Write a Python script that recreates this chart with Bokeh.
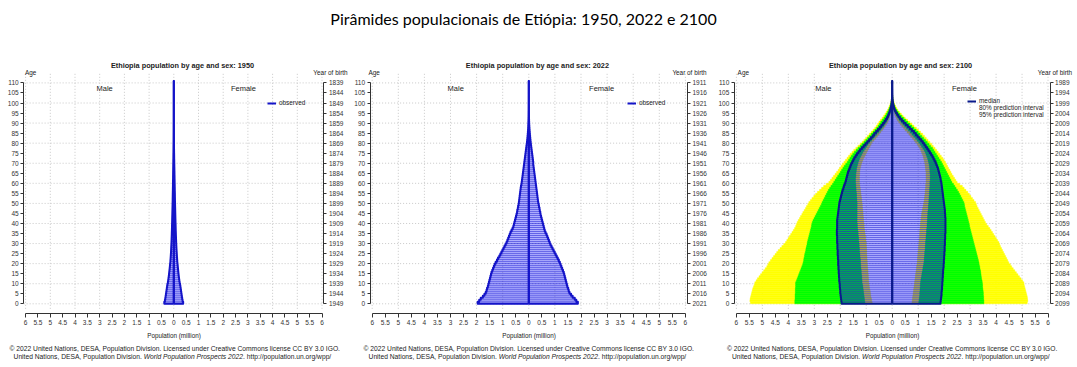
import numpy as np
from bokeh.plotting import figure
from bokeh.models import (Range1d, LinearAxis, FixedTicker, Label, Legend, LegendItem,
                          ColumnDataSource)
from bokeh.embed import file_html
from bokeh.resources import INLINE

# ---------------- data (population in millions, single years of age 0..110) -------------
AGES = list(range(111))

M1950 = [0.385, 0.360, 0.345, 0.332, 0.320, 0.308, 0.296, 0.284, 0.272, 0.260,
         0.240, 0.228, 0.216, 0.205, 0.195, 0.186, 0.177, 0.168, 0.160, 0.152,
         0.142, 0.136, 0.130, 0.124, 0.119, 0.114, 0.110, 0.106, 0.102, 0.098,
         0.094, 0.091, 0.088, 0.085, 0.082, 0.080, 0.077, 0.075, 0.073, 0.071,
         0.068, 0.066, 0.064, 0.062, 0.060, 0.058, 0.056, 0.054, 0.052, 0.050,
         0.048, 0.046, 0.045, 0.043, 0.042, 0.040, 0.038, 0.037, 0.035, 0.034,
         0.032, 0.031, 0.029, 0.028, 0.026, 0.025, 0.023, 0.022, 0.020, 0.019,
         0.017, 0.016, 0.014, 0.013, 0.012, 0.010, 0.009, 0.008, 0.007, 0.006,
         0.005, 0.004, 0.0035, 0.003, 0.0025, 0.002, 0.0015, 0.0012, 0.001, 0.0008,
         0.0006, 0.0005, 0.0003, 0.0002, 0.0002, 0.0001, 0.0001, 0.0, 0.0, 0.0,
         0, 0, 0, 0, 0, 0, 0, 0, 0, 0, 0]
F1950 = [0.380, 0.356, 0.341, 0.328, 0.316, 0.304, 0.292, 0.280, 0.268, 0.256,
         0.237, 0.225, 0.214, 0.203, 0.194, 0.185, 0.177, 0.169, 0.161, 0.154,
         0.145, 0.139, 0.133, 0.127, 0.122, 0.117, 0.112, 0.108, 0.104, 0.100,
         0.096, 0.093, 0.090, 0.087, 0.084, 0.081, 0.078, 0.076, 0.074, 0.072,
         0.069, 0.067, 0.065, 0.063, 0.061, 0.059, 0.057, 0.055, 0.053, 0.051,
         0.049, 0.047, 0.046, 0.044, 0.043, 0.041, 0.039, 0.038, 0.036, 0.035,
         0.033, 0.032, 0.030, 0.029, 0.027, 0.026, 0.024, 0.023, 0.021, 0.020,
         0.018, 0.017, 0.015, 0.014, 0.013, 0.011, 0.010, 0.009, 0.008, 0.007,
         0.006, 0.005, 0.004, 0.0035, 0.003, 0.0025, 0.002, 0.0015, 0.0012, 0.001,
         0.0008, 0.0006, 0.0004, 0.0003, 0.0002, 0.0002, 0.0001, 0.0001, 0.0, 0.0,
         0, 0, 0, 0, 0, 0, 0, 0, 0, 0, 0]

M2022 = [1.96, 1.90, 1.84, 1.76, 1.70, 1.65, 1.62, 1.60, 1.57, 1.55,
         1.53, 1.51, 1.49, 1.47, 1.45, 1.43, 1.40, 1.37, 1.34, 1.31,
         1.27, 1.22, 1.18, 1.13, 1.09, 1.05, 1.01, 0.97, 0.93, 0.89,
         0.85, 0.82, 0.79, 0.76, 0.73, 0.70, 0.66, 0.62, 0.59, 0.57,
         0.55, 0.53, 0.51, 0.49, 0.47, 0.45, 0.44, 0.42, 0.41, 0.39,
         0.38, 0.37, 0.36, 0.35, 0.34, 0.33, 0.32, 0.31, 0.30, 0.28,
         0.27, 0.26, 0.25, 0.24, 0.23, 0.22, 0.21, 0.20, 0.19, 0.18,
         0.17, 0.16, 0.15, 0.14, 0.13, 0.12, 0.11, 0.10, 0.09, 0.08,
         0.070, 0.062, 0.054, 0.047, 0.040, 0.034, 0.028, 0.023, 0.019, 0.015,
         0.012, 0.009, 0.007, 0.005, 0.004, 0.003, 0.002, 0.0015, 0.001, 0.0007,
         0.0005, 0.0003, 0.0002, 0.0001, 0.0001, 0, 0, 0, 0, 0, 0]
F2022 = [1.88, 1.82, 1.76, 1.68, 1.62, 1.56, 1.53, 1.51, 1.48, 1.46,
         1.44, 1.42, 1.40, 1.38, 1.36, 1.34, 1.31, 1.28, 1.25, 1.22,
         1.19, 1.15, 1.11, 1.07, 1.03, 0.99, 0.95, 0.91, 0.87, 0.83,
         0.80, 0.77, 0.74, 0.71, 0.68, 0.64, 0.61, 0.59, 0.57, 0.55,
         0.53, 0.51, 0.49, 0.47, 0.45, 0.44, 0.42, 0.41, 0.39, 0.38,
         0.36, 0.35, 0.34, 0.33, 0.32, 0.31, 0.30, 0.29, 0.28, 0.27,
         0.26, 0.25, 0.24, 0.23, 0.22, 0.21, 0.20, 0.19, 0.18, 0.17,
         0.17, 0.16, 0.15, 0.14, 0.13, 0.12, 0.11, 0.10, 0.09, 0.08,
         0.072, 0.064, 0.056, 0.049, 0.042, 0.036, 0.030, 0.025, 0.020, 0.016,
         0.013, 0.010, 0.008, 0.006, 0.0045, 0.0033, 0.0024, 0.0017, 0.0012, 0.0008,
         0.0005, 0.0003, 0.0002, 0.0001, 0.0001, 0, 0, 0, 0, 0, 0]

M2100_MED = [1.95, 1.96, 1.97, 1.98, 1.99, 2.00, 2.00, 2.01, 2.02, 2.02,
             2.03, 2.04, 2.04, 2.05, 2.05, 2.06, 2.06, 2.07, 2.07, 2.08,
             2.08, 2.08, 2.09, 2.09, 2.10, 2.10, 2.10, 2.11, 2.11, 2.11,
             2.12, 2.12, 2.12, 2.12, 2.13, 2.13, 2.13, 2.12, 2.12, 2.12,
             2.12, 2.12, 2.11, 2.10, 2.09, 2.08, 2.07, 2.06, 2.05, 2.04,
             2.03, 2.01, 1.99, 1.97, 1.95, 1.93, 1.91, 1.88, 1.86, 1.83,
             1.80, 1.78, 1.76, 1.74, 1.72, 1.70, 1.67, 1.64, 1.61, 1.58,
             1.54, 1.50, 1.46, 1.41, 1.36, 1.30, 1.24, 1.17, 1.10, 1.03,
             0.96, 0.89, 0.82, 0.75, 0.69, 0.62, 0.55, 0.48, 0.42, 0.36,
             0.30, 0.25, 0.20, 0.16, 0.13, 0.10, 0.075, 0.055, 0.040, 0.028,
             0.019, 0.012, 0.008, 0.005, 0.003, 0.002, 0.001, 0.0007, 0.0004, 0.0002, 0.0001]
M2100_LO80 = [1.05, 1.06, 1.07, 1.08, 1.09, 1.10, 1.11, 1.12, 1.13, 1.14,
              1.16, 1.16, 1.17, 1.17, 1.18, 1.19, 1.19, 1.20, 1.21, 1.21,
              1.22, 1.22, 1.23, 1.24, 1.24, 1.25, 1.26, 1.26, 1.27, 1.27,
              1.28, 1.29, 1.29, 1.30, 1.31, 1.31, 1.32, 1.33, 1.34, 1.34,
              1.35, 1.35, 1.35, 1.35, 1.35, 1.35, 1.35, 1.35, 1.35, 1.35,
              1.35, 1.36, 1.36, 1.37, 1.37, 1.38, 1.39, 1.39, 1.40, 1.40,
              1.41, 1.41, 1.41, 1.40, 1.40, 1.39, 1.38, 1.37, 1.35, 1.33,
              1.31, 1.28, 1.25, 1.21, 1.17, 1.13, 1.08, 1.03, 0.98, 0.93,
              0.87, 0.80, 0.73, 0.66, 0.59, 0.52, 0.46, 0.39, 0.33, 0.28,
              0.23, 0.19, 0.15, 0.12, 0.09, 0.07, 0.05, 0.037, 0.026, 0.018,
              0.012, 0.008, 0.005, 0.003, 0.002, 0.001, 0.0006, 0.0004, 0.0002, 0.0001, 0.0]
M2100_LO95 = [0.77, 0.79, 0.80, 0.82, 0.83, 0.84, 0.85, 0.87, 0.88, 0.89,
              0.90, 0.91, 0.91, 0.92, 0.92, 0.93, 0.93, 0.94, 0.95, 0.95,
              0.96, 0.96, 0.97, 0.97, 0.98, 0.98, 0.98, 0.99, 0.99, 1.00,
              1.00, 1.01, 1.02, 1.03, 1.04, 1.05, 1.06, 1.07, 1.08, 1.08,
              1.09, 1.10, 1.10, 1.11, 1.12, 1.12, 1.13, 1.14, 1.15, 1.15,
              1.16, 1.17, 1.18, 1.19, 1.20, 1.21, 1.22, 1.23, 1.24, 1.25,
              1.26, 1.26, 1.26, 1.26, 1.25, 1.25, 1.24, 1.23, 1.21, 1.19,
              1.16, 1.13, 1.10, 1.06, 1.02, 0.98, 0.94, 0.90, 0.85, 0.81,
              0.77, 0.70, 0.63, 0.57, 0.50, 0.44, 0.38, 0.32, 0.27, 0.22,
              0.17, 0.14, 0.11, 0.085, 0.065, 0.048, 0.035, 0.025, 0.017, 0.011,
              0.007, 0.004, 0.003, 0.002, 0.001, 0.0006, 0.0003, 0.0002, 0.0001, 0.0, 0.0]
M2100_HI80 = [3.75, 3.75, 3.74, 3.74, 3.74, 3.73, 3.73, 3.73, 3.72, 3.72,
              3.72, 3.69, 3.66, 3.63, 3.60, 3.57, 3.54, 3.51, 3.48, 3.45,
              3.43, 3.41, 3.40, 3.38, 3.37, 3.35, 3.33, 3.32, 3.30, 3.28,
              3.27, 3.25, 3.23, 3.21, 3.19, 3.17, 3.15, 3.13, 3.11, 3.10,
              3.08, 3.05, 3.01, 2.97, 2.93, 2.89, 2.85, 2.81, 2.77, 2.73,
              2.70, 2.66, 2.62, 2.58, 2.54, 2.50, 2.46, 2.41, 2.36, 2.30,
              2.25, 2.20, 2.15, 2.10, 2.05, 2.00, 1.95, 1.90, 1.85, 1.79,
              1.73, 1.68, 1.63, 1.58, 1.52, 1.46, 1.39, 1.32, 1.24, 1.17,
              1.09, 1.02, 0.95, 0.88, 0.81, 0.74, 0.67, 0.60, 0.54, 0.49,
              0.44, 0.38, 0.32, 0.27, 0.22, 0.18, 0.14, 0.11, 0.08, 0.06,
              0.04, 0.028, 0.019, 0.013, 0.009, 0.006, 0.004, 0.002, 0.001, 0.0006, 0.0003]
M2100_HI95 = [5.46, 5.48, 5.47, 5.45, 5.43, 5.41, 5.39, 5.37, 5.34, 5.31,
              5.29, 5.24, 5.19, 5.13, 5.07, 5.01, 4.95, 4.89, 4.83, 4.79,
              4.75, 4.69, 4.63, 4.57, 4.51, 4.45, 4.39, 4.32, 4.25, 4.18,
              4.11, 4.06, 4.01, 3.96, 3.91, 3.86, 3.81, 3.76, 3.72, 3.69,
              3.66, 3.62, 3.57, 3.53, 3.48, 3.44, 3.39, 3.34, 3.30, 3.25,
              3.21, 3.15, 3.09, 3.02, 2.95, 2.88, 2.80, 2.72, 2.64, 2.54,
              2.44, 2.38, 2.32, 2.26, 2.20, 2.14, 2.08, 2.03, 1.97, 1.92,
              1.86, 1.80, 1.74, 1.68, 1.62, 1.55, 1.48, 1.40, 1.32, 1.24,
              1.16, 1.09, 1.02, 0.95, 0.88, 0.81, 0.74, 0.67, 0.61, 0.56,
              0.51, 0.45, 0.39, 0.33, 0.28, 0.23, 0.18, 0.14, 0.11, 0.08,
              0.06, 0.04, 0.027, 0.018, 0.012, 0.008, 0.005, 0.003, 0.002, 0.001, 0.0005]

F2100_MED = [1.86, 1.87, 1.88, 1.89, 1.90, 1.90, 1.91, 1.92, 1.92, 1.93,
             1.93, 1.94, 1.94, 1.95, 1.95, 1.96, 1.96, 1.97, 1.98, 1.98,
             1.99, 1.99, 2.00, 2.00, 2.01, 2.01, 2.02, 2.02, 2.02, 2.03,
             2.03, 2.03, 2.04, 2.04, 2.04, 2.05, 2.05, 2.05, 2.05, 2.05,
             2.05, 2.05, 2.05, 2.04, 2.04, 2.03, 2.03, 2.02, 2.01, 2.00,
             1.99, 1.98, 1.97, 1.96, 1.95, 1.94, 1.93, 1.92, 1.91, 1.90,
             1.89, 1.87, 1.86, 1.84, 1.82, 1.80, 1.78, 1.76, 1.73, 1.70,
             1.67, 1.63, 1.59, 1.55, 1.50, 1.45, 1.40, 1.35, 1.29, 1.24,
             1.18, 1.12, 1.05, 0.98, 0.91, 0.84, 0.76, 0.68, 0.60, 0.52,
             0.44, 0.37, 0.30, 0.24, 0.19, 0.14, 0.10, 0.075, 0.055, 0.038,
             0.026, 0.017, 0.011, 0.007, 0.004, 0.003, 0.002, 0.001, 0.0006, 0.0003, 0.0001]
F2100_LO80 = [1.02, 1.03, 1.04, 1.05, 1.06, 1.06, 1.07, 1.07, 1.08, 1.08,
              1.09, 1.10, 1.11, 1.13, 1.14, 1.15, 1.17, 1.18, 1.19, 1.21,
              1.22, 1.23, 1.23, 1.24, 1.25, 1.25, 1.26, 1.27, 1.27, 1.28,
              1.28, 1.29, 1.30, 1.30, 1.31, 1.32, 1.32, 1.33, 1.34, 1.34,
              1.35, 1.35, 1.36, 1.36, 1.37, 1.37, 1.38, 1.39, 1.39, 1.40,
              1.41, 1.41, 1.42, 1.42, 1.43, 1.43, 1.44, 1.44, 1.45, 1.45,
              1.45, 1.46, 1.46, 1.46, 1.46, 1.45, 1.45, 1.44, 1.43, 1.42,
              1.40, 1.38, 1.36, 1.33, 1.30, 1.27, 1.23, 1.18, 1.13, 1.08,
              1.02, 0.96, 0.90, 0.83, 0.76, 0.69, 0.62, 0.55, 0.48, 0.41,
              0.34, 0.28, 0.23, 0.18, 0.14, 0.10, 0.075, 0.055, 0.040, 0.027,
              0.018, 0.012, 0.007, 0.004, 0.003, 0.002, 0.001, 0.0006, 0.0003, 0.0002, 0.0001]
F2100_LO95 = [0.76, 0.77, 0.78, 0.79, 0.80, 0.81, 0.82, 0.83, 0.84, 0.85,
              0.86, 0.87, 0.88, 0.89, 0.90, 0.91, 0.92, 0.93, 0.94, 0.95,
              0.96, 0.97, 0.97, 0.98, 0.99, 0.99, 1.00, 1.01, 1.01, 1.02,
              1.03, 1.03, 1.04, 1.05, 1.05, 1.06, 1.06, 1.07, 1.08, 1.08,
              1.09, 1.10, 1.11, 1.12, 1.13, 1.14, 1.16, 1.17, 1.19, 1.20,
              1.22, 1.23, 1.24, 1.25, 1.26, 1.27, 1.27, 1.28, 1.29, 1.29,
              1.30, 1.30, 1.30, 1.30, 1.30, 1.30, 1.29, 1.28, 1.27, 1.26,
              1.25, 1.23, 1.21, 1.19, 1.16, 1.13, 1.10, 1.06, 1.01, 0.96,
              0.90, 0.84, 0.78, 0.71, 0.64, 0.57, 0.50, 0.44, 0.37, 0.31,
              0.25, 0.20, 0.16, 0.12, 0.09, 0.07, 0.05, 0.035, 0.025, 0.017,
              0.011, 0.007, 0.004, 0.003, 0.002, 0.001, 0.0006, 0.0003, 0.0002, 0.0001, 0.0]
F2100_HI80 = [3.53, 3.53, 3.52, 3.52, 3.51, 3.51, 3.50, 3.49, 3.48, 3.48,
              3.47, 3.46, 3.44, 3.43, 3.42, 3.41, 3.40, 3.38, 3.37, 3.35,
              3.34, 3.32, 3.30, 3.28, 3.26, 3.24, 3.22, 3.20, 3.18, 3.16,
              3.14, 3.12, 3.10, 3.08, 3.06, 3.04, 3.02, 3.00, 2.98, 2.97,
              2.95, 2.93, 2.91, 2.89, 2.87, 2.85, 2.83, 2.81, 2.79, 2.78,
              2.76, 2.72, 2.68, 2.64, 2.60, 2.56, 2.51, 2.46, 2.41, 2.36,
              2.30, 2.26, 2.22, 2.18, 2.14, 2.10, 2.06, 2.02, 1.98, 1.94,
              1.90, 1.85, 1.80, 1.75, 1.70, 1.65, 1.60, 1.55, 1.48, 1.42,
              1.35, 1.28, 1.21, 1.14, 1.07, 1.00, 0.92, 0.84, 0.76, 0.68,
              0.60, 0.52, 0.44, 0.36, 0.29, 0.23, 0.18, 0.13, 0.10, 0.07,
              0.05, 0.035, 0.024, 0.016, 0.011, 0.007, 0.004, 0.003, 0.0015, 0.0008, 0.0004]
F2100_HI95 = [5.20, 5.22, 5.21, 5.20, 5.18, 5.16, 5.14, 5.12, 5.10, 5.08,
              5.07, 5.02, 4.96, 4.90, 4.84, 4.78, 4.72, 4.66, 4.60, 4.55,
              4.49, 4.45, 4.41, 4.37, 4.33, 4.29, 4.25, 4.21, 4.17, 4.14,
              4.11, 4.06, 4.01, 3.96, 3.91, 3.86, 3.81, 3.76, 3.70, 3.64,
              3.59, 3.55, 3.51, 3.47, 3.43, 3.39, 3.35, 3.31, 3.27, 3.24,
              3.21, 3.15, 3.09, 3.03, 2.97, 2.91, 2.84, 2.77, 2.70, 2.60,
              2.50, 2.45, 2.40, 2.35, 2.30, 2.26, 2.22, 2.17, 2.13, 2.09,
              2.05, 2.00, 1.95, 1.89, 1.83, 1.77, 1.71, 1.65, 1.58, 1.52,
              1.45, 1.38, 1.31, 1.24, 1.17, 1.09, 1.01, 0.93, 0.84, 0.76,
              0.68, 0.59, 0.50, 0.42, 0.35, 0.28, 0.22, 0.17, 0.13, 0.09,
              0.07, 0.05, 0.034, 0.023, 0.015, 0.010, 0.006, 0.004, 0.002, 0.001, 0.0005]

X_TICKS = [-6.0, -5.5, -5.0, -4.5, -4.0, -3.5, -3.0, -2.5, -2.0, -1.5, -1.0, -0.5, 0.0,
           0.5, 1.0, 1.5, 2.0, 2.5, 3.0, 3.5, 4.0, 4.5, 5.0, 5.5, 6.0]
X_GRID = [-6, -5, -4, -3, -2, -1, 0, 1, 2, 3, 4, 5, 6]
AGE_TICKS = [0, 5, 10, 15, 20, 25, 30, 35, 40, 45, 50, 55, 60, 65, 70, 75, 80, 85, 90, 95,
             100, 105, 110]
AGE_GRID = [0, 10, 20, 30, 40, 50, 60, 70, 80, 90, 100, 110]

MAIN_TITLE = "Pirâmides populacionais de Etiópia: 1950, 2022 e 2100"
CREDIT_1 = ("© 2022 United Nations, DESA, Population Division. Licensed under Creative "
            "Commons license CC BY 3.0 IGO.")
CREDIT_2A = "United Nations, DESA, Population Division."
CREDIT_2B = "World Population Prospects 2022"
CREDIT_2C = ". http://population.un.org/wpp/"

# ---------------- layout constants (pixels) -------------
W, H = 1077, 367
AGE0_PX = 303.3      # pixel row of age 0
PX_PER_YEAR = 2.008
PANELS = [  # name, year, pixel column of x=0, pixels per million
    ("p1", 1950, 173.3, 24.7),
    ("p2", 2022, 528.3, 26.1),
    ("p3", 2100, 891.7, 25.97),
]
AX_X = 6.08          # position of the vertical axes (million)
AX_Y = -5            # position of the population axis (age)
GRID_Y = (-2.5, 115.5)

# ---------------- styling -------------
FONT = "Liberation Sans"
TXT = "#222222"
AX = "#333333"
OBS_LINE = "#1414c8"
MED_LINE = "#0a1a8c"
BAR_FILL = "#0000ff"
BAR_LINE = "#2020d0"
GREEN = "#00ff00"
YELLOW = "#ffff00"

p = figure(width=W, height=H, x_range=Range1d(0, W),
           y_range=Range1d((AGE0_PX - H) / PX_PER_YEAR, AGE0_PX / PX_PER_YEAR),
           min_border=0, output_backend="svg", toolbar_location=None,
           x_axis_location=None, y_axis_location=None, outline_line_color=None)
p.xgrid.visible = False
p.ygrid.visible = False
p.extra_x_ranges = {name: Range1d(-c / s, (W - c) / s) for name, _, c, s in PANELS}


def text(rn, x, y, s, size, style="normal", align="center", x_offset=0, font=FONT,
         color=TXT):
    kw = {} if rn is None else {"x_range_name": rn}
    p.add_layout(Label(x=x, y=y, text=s, text_font=font, text_font_size=size,
                       text_font_style=style, text_align=align, text_baseline="middle",
                       text_color=color, x_offset=x_offset, **kw))


def style_axis(ax, tick_out=3):
    ax.axis_line_color = AX
    ax.major_tick_line_color = AX
    ax.major_tick_out = tick_out
    ax.major_tick_in = 0
    ax.minor_tick_line_color = None
    ax.major_label_text_font = FONT
    ax.major_label_text_font_size = "6.5px"
    ax.major_label_text_color = AX
    ax.major_label_standoff = 2


def outline(vals, sign):
    v = np.asarray(vals, dtype=float) * sign
    a = np.asarray(AGES, dtype=float)
    xs = np.concatenate([[0.0], np.repeat(v, 2), [0.0, 0.0]])
    ys = np.concatenate([[0.0], np.column_stack([a, a + 1]).ravel(), [a[-1] + 1, 0.0]])
    return xs, ys


def frame(rn, year, prm):
    # grid
    p.segment(x0=X_GRID, y0=GRID_Y[0], x1=X_GRID, y1=GRID_Y[1], x_range_name=rn,
              line_color="#c8c8c8", line_dash="1 2", line_width=1)
    p.segment(x0=-AX_X, y0=AGE_GRID, x1=AX_X, y1=AGE_GRID, x_range_name=rn,
              line_color="#c8c8c8", line_dash="1 2", line_width=1)
    # axes
    xa = LinearAxis(ticker=FixedTicker(ticks=X_TICKS), bounds=(-6, 6), x_range_name=rn,
                    fixed_location=AX_Y,
                    major_label_overrides={t: f"{abs(t):g}" for t in X_TICKS},
                    axis_label="Population (million)")
    style_axis(xa, tick_out=4)
    xa.axis_label_text_font = FONT
    xa.axis_label_text_font_size = "6.3px"
    xa.axis_label_text_font_style = "normal"
    xa.axis_label_text_color = TXT
    xa.axis_label_standoff = 4
    p.add_layout(xa, "below")
    ya = LinearAxis(ticker=FixedTicker(ticks=AGE_TICKS), bounds=(0, 110), x_range_name=rn,
                    fixed_location=-AX_X)
    style_axis(ya)
    p.add_layout(ya, "left")
    yb = LinearAxis(ticker=FixedTicker(ticks=AGE_TICKS), bounds=(0, 110), x_range_name=rn,
                    fixed_location=AX_X,
                    major_label_overrides={a: str(year - 1 - a) for a in AGE_TICKS})
    style_axis(yb)
    p.add_layout(yb, "right")
    # texts
    text(rn, prm["title_x"], 118.6, f"Ethiopia population by age and sex: {year}", "7.3px",
         style="bold")
    text(rn, -AX_X, 115.1, "Age", "6.4px", x_offset=prm["age_off"])
    text(rn, AX_X, 115.1, "Year of birth", "6.4px", align=prm.get("yob_align", "center"),
         x_offset=prm["yob_off"])
    text(rn, prm["male_x"], 107.0, "Male", "7.5px")
    text(rn, prm["female_x"], 107.0, "Female", "7.5px")
    text(rn, 0, -22.2, CREDIT_1, "6.7px", x_offset=prm.get("credit_off", 0))
    text(rn, 0, -26.2, CREDIT_2B, "6.7px", style="italic", x_offset=19.5)
    text(rn, 0, -26.2, CREDIT_2A, "6.7px", align="right", x_offset=-32.0)
    text(rn, 0, -26.2, CREDIT_2C, "6.7px", align="left", x_offset=69.3)


def bars(rn, male, female):
    src = ColumnDataSource(dict(age=np.asarray(AGES), top=np.asarray(AGES) + 1,
                                m=-np.asarray(male, dtype=float),
                                f=np.asarray(female, dtype=float)))
    kw = dict(fill_color=BAR_FILL, fill_alpha=0.3, line_color=BAR_LINE, line_alpha=0.55,
              line_width=0.6, x_range_name=rn)
    p.quad(left="m", right=0, bottom="age", top="top", source=src, **kw)
    p.quad(left=0, right="f", bottom="age", top="top", source=src, **kw)


def outline_lines(rn, male, female, color):
    r = None
    for vals, sign in ((male, -1), (female, 1)):
        xs, ys = outline(vals, sign)
        r = p.line(xs, ys, line_color=color, line_width=2, line_join="round",
                   x_range_name=rn)
    return r


def legend(items, loc):
    lg = Legend(items=items, location=loc, label_text_font=FONT, label_text_font_size="6.4px",
                label_text_color=TXT, label_text_line_height=0.9, glyph_width=9,
                glyph_height=6, label_height=6, label_standoff=3, spacing=0, padding=0,
                margin=0, border_line_color=None, background_fill_alpha=0)
    p.add_layout(lg)


# ---------------- main title -------------
text(None, 523, (AGE0_PX - 18) / PX_PER_YEAR, MAIN_TITLE, "16px", font="Lato", color="black")

# ---------------- 1950 -------------
frame("p1", 1950, dict(title_x=0.35, age_off=7, yob_off=6.5, male_x=-2.8, female_x=2.82,
                       credit_off=1))
bars("p1", M1950, F1950)
r1 = outline_lines("p1", M1950, F1950, OBS_LINE)
legend([LegendItem(label="observed", renderers=[r1])], (267, 261))

# ---------------- 2022 -------------
frame("p2", 2022, dict(title_x=0.33, age_off=4, yob_off=2, male_x=-2.8, female_x=2.79))
bars("p2", M2022, F2022)
r2 = outline_lines("p2", M2022, F2022, OBS_LINE)
legend([LegendItem(label="observed", renderers=[r2])], (627, 261))

# ---------------- 2100 -------------
frame("p3", 2100, dict(title_x=0.32, age_off=9, yob_off=22, yob_align="right",
                       male_x=-2.65, female_x=2.78))
a = np.asarray(AGES)
src3 = ColumnDataSource(dict(
    age=a, top=a + 1,
    m_lo95=-np.asarray(M2100_LO95), m_hi95=-np.asarray(M2100_HI95),
    m_lo80=-np.asarray(M2100_LO80), m_hi80=-np.asarray(M2100_HI80),
    f_lo95=np.asarray(F2100_LO95), f_hi95=np.asarray(F2100_HI95),
    f_lo80=np.asarray(F2100_LO80), f_hi80=np.asarray(F2100_HI80)))
for lo, hi, col in (("m_hi95", "m_lo95", YELLOW), ("f_lo95", "f_hi95", YELLOW),
                    ("m_hi80", "m_lo80", GREEN), ("f_lo80", "f_hi80", GREEN)):
    p.quad(left=lo, right=hi, bottom="age", top="top", source=src3, fill_color=col,
           line_color=col, line_width=0.4, x_range_name="p3")
bars("p3", M2100_MED, F2100_MED)
r3 = outline_lines("p3", M2100_MED, F2100_MED, MED_LINE)
g80 = p.line(x=[], y=[], line_color=GREEN, line_width=4, x_range_name="p3")
y95 = p.line(x=[], y=[], line_color=YELLOW, line_width=4, x_range_name="p3")
legend([LegendItem(label="median", renderers=[r3]),
        LegendItem(label="80% prediction interval", renderers=[g80]),
        LegendItem(label="95% prediction interval", renderers=[y95])], (967, 249))

open("out.html", "w").write(file_html(p, INLINE))
